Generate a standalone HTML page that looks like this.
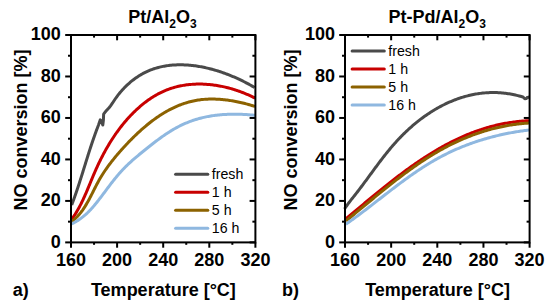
<!DOCTYPE html>
<html><head><meta charset="utf-8"><style>html,body{margin:0;padding:0;background:#fff;width:550px;height:308px;overflow:hidden}svg{display:block}</style></head>
<body>
<svg width="550" height="308" viewBox="0 0 550 308">
<style>text{font-family:"Liberation Sans", sans-serif;fill:#000}.tl{font-size:18px;font-weight:bold}.lg{font-size:14.2px}.ax{font-size:18px;font-weight:bold}.tt{font-size:18px;font-weight:bold}.sub{font-size:12px}</style>
<rect width="550" height="308" fill="#fff"/>
<line x1="71.00" y1="242.40" x2="71.00" y2="247.70" stroke="#000" stroke-width="2"/>
<line x1="71.00" y1="35.00" x2="71.00" y2="40.30" stroke="#000" stroke-width="2"/>
<line x1="94.05" y1="242.40" x2="94.05" y2="244.80" stroke="#000" stroke-width="2"/>
<line x1="94.05" y1="35.00" x2="94.05" y2="37.60" stroke="#000" stroke-width="2"/>
<line x1="117.10" y1="242.40" x2="117.10" y2="247.70" stroke="#000" stroke-width="2"/>
<line x1="117.10" y1="35.00" x2="117.10" y2="40.30" stroke="#000" stroke-width="2"/>
<line x1="140.15" y1="242.40" x2="140.15" y2="244.80" stroke="#000" stroke-width="2"/>
<line x1="140.15" y1="35.00" x2="140.15" y2="37.60" stroke="#000" stroke-width="2"/>
<line x1="163.20" y1="242.40" x2="163.20" y2="247.70" stroke="#000" stroke-width="2"/>
<line x1="163.20" y1="35.00" x2="163.20" y2="40.30" stroke="#000" stroke-width="2"/>
<line x1="186.25" y1="242.40" x2="186.25" y2="244.80" stroke="#000" stroke-width="2"/>
<line x1="186.25" y1="35.00" x2="186.25" y2="37.60" stroke="#000" stroke-width="2"/>
<line x1="209.30" y1="242.40" x2="209.30" y2="247.70" stroke="#000" stroke-width="2"/>
<line x1="209.30" y1="35.00" x2="209.30" y2="40.30" stroke="#000" stroke-width="2"/>
<line x1="232.35" y1="242.40" x2="232.35" y2="244.80" stroke="#000" stroke-width="2"/>
<line x1="232.35" y1="35.00" x2="232.35" y2="37.60" stroke="#000" stroke-width="2"/>
<line x1="255.40" y1="242.40" x2="255.40" y2="247.70" stroke="#000" stroke-width="2"/>
<line x1="255.40" y1="35.00" x2="255.40" y2="40.30" stroke="#000" stroke-width="2"/>
<line x1="65.20" y1="242.40" x2="71.00" y2="242.40" stroke="#000" stroke-width="2"/>
<line x1="249.60" y1="242.40" x2="255.40" y2="242.40" stroke="#000" stroke-width="2"/>
<line x1="68.00" y1="221.66" x2="71.00" y2="221.66" stroke="#000" stroke-width="2"/>
<line x1="252.40" y1="221.66" x2="255.40" y2="221.66" stroke="#000" stroke-width="2"/>
<line x1="65.20" y1="200.92" x2="71.00" y2="200.92" stroke="#000" stroke-width="2"/>
<line x1="249.60" y1="200.92" x2="255.40" y2="200.92" stroke="#000" stroke-width="2"/>
<line x1="68.00" y1="180.18" x2="71.00" y2="180.18" stroke="#000" stroke-width="2"/>
<line x1="252.40" y1="180.18" x2="255.40" y2="180.18" stroke="#000" stroke-width="2"/>
<line x1="65.20" y1="159.44" x2="71.00" y2="159.44" stroke="#000" stroke-width="2"/>
<line x1="249.60" y1="159.44" x2="255.40" y2="159.44" stroke="#000" stroke-width="2"/>
<line x1="68.00" y1="138.70" x2="71.00" y2="138.70" stroke="#000" stroke-width="2"/>
<line x1="252.40" y1="138.70" x2="255.40" y2="138.70" stroke="#000" stroke-width="2"/>
<line x1="65.20" y1="117.96" x2="71.00" y2="117.96" stroke="#000" stroke-width="2"/>
<line x1="249.60" y1="117.96" x2="255.40" y2="117.96" stroke="#000" stroke-width="2"/>
<line x1="68.00" y1="97.22" x2="71.00" y2="97.22" stroke="#000" stroke-width="2"/>
<line x1="252.40" y1="97.22" x2="255.40" y2="97.22" stroke="#000" stroke-width="2"/>
<line x1="65.20" y1="76.48" x2="71.00" y2="76.48" stroke="#000" stroke-width="2"/>
<line x1="249.60" y1="76.48" x2="255.40" y2="76.48" stroke="#000" stroke-width="2"/>
<line x1="68.00" y1="55.74" x2="71.00" y2="55.74" stroke="#000" stroke-width="2"/>
<line x1="252.40" y1="55.74" x2="255.40" y2="55.74" stroke="#000" stroke-width="2"/>
<line x1="65.20" y1="35.00" x2="71.00" y2="35.00" stroke="#000" stroke-width="2"/>
<line x1="249.60" y1="35.00" x2="255.40" y2="35.00" stroke="#000" stroke-width="2"/>
<text x="71.00" y="265.6" text-anchor="middle" class="tl">160</text>
<text x="117.10" y="265.6" text-anchor="middle" class="tl">200</text>
<text x="163.20" y="265.6" text-anchor="middle" class="tl">240</text>
<text x="209.30" y="265.6" text-anchor="middle" class="tl">280</text>
<text x="255.40" y="265.6" text-anchor="middle" class="tl">320</text>
<text x="60.70" y="247.80" text-anchor="end" class="tl">0</text>
<text x="60.70" y="206.32" text-anchor="end" class="tl">20</text>
<text x="60.70" y="164.84" text-anchor="end" class="tl">40</text>
<text x="60.70" y="123.36" text-anchor="end" class="tl">60</text>
<text x="60.70" y="81.88" text-anchor="end" class="tl">80</text>
<text x="60.70" y="40.40" text-anchor="end" class="tl">100</text>
<line x1="345.00" y1="242.40" x2="345.00" y2="247.70" stroke="#000" stroke-width="2"/>
<line x1="345.00" y1="35.00" x2="345.00" y2="40.30" stroke="#000" stroke-width="2"/>
<line x1="368.07" y1="242.40" x2="368.07" y2="244.80" stroke="#000" stroke-width="2"/>
<line x1="368.07" y1="35.00" x2="368.07" y2="37.60" stroke="#000" stroke-width="2"/>
<line x1="391.15" y1="242.40" x2="391.15" y2="247.70" stroke="#000" stroke-width="2"/>
<line x1="391.15" y1="35.00" x2="391.15" y2="40.30" stroke="#000" stroke-width="2"/>
<line x1="414.23" y1="242.40" x2="414.23" y2="244.80" stroke="#000" stroke-width="2"/>
<line x1="414.23" y1="35.00" x2="414.23" y2="37.60" stroke="#000" stroke-width="2"/>
<line x1="437.30" y1="242.40" x2="437.30" y2="247.70" stroke="#000" stroke-width="2"/>
<line x1="437.30" y1="35.00" x2="437.30" y2="40.30" stroke="#000" stroke-width="2"/>
<line x1="460.38" y1="242.40" x2="460.38" y2="244.80" stroke="#000" stroke-width="2"/>
<line x1="460.38" y1="35.00" x2="460.38" y2="37.60" stroke="#000" stroke-width="2"/>
<line x1="483.45" y1="242.40" x2="483.45" y2="247.70" stroke="#000" stroke-width="2"/>
<line x1="483.45" y1="35.00" x2="483.45" y2="40.30" stroke="#000" stroke-width="2"/>
<line x1="506.53" y1="242.40" x2="506.53" y2="244.80" stroke="#000" stroke-width="2"/>
<line x1="506.53" y1="35.00" x2="506.53" y2="37.60" stroke="#000" stroke-width="2"/>
<line x1="529.60" y1="242.40" x2="529.60" y2="247.70" stroke="#000" stroke-width="2"/>
<line x1="529.60" y1="35.00" x2="529.60" y2="40.30" stroke="#000" stroke-width="2"/>
<line x1="339.20" y1="242.40" x2="345.00" y2="242.40" stroke="#000" stroke-width="2"/>
<line x1="523.80" y1="242.40" x2="529.60" y2="242.40" stroke="#000" stroke-width="2"/>
<line x1="342.00" y1="221.66" x2="345.00" y2="221.66" stroke="#000" stroke-width="2"/>
<line x1="526.60" y1="221.66" x2="529.60" y2="221.66" stroke="#000" stroke-width="2"/>
<line x1="339.20" y1="200.92" x2="345.00" y2="200.92" stroke="#000" stroke-width="2"/>
<line x1="523.80" y1="200.92" x2="529.60" y2="200.92" stroke="#000" stroke-width="2"/>
<line x1="342.00" y1="180.18" x2="345.00" y2="180.18" stroke="#000" stroke-width="2"/>
<line x1="526.60" y1="180.18" x2="529.60" y2="180.18" stroke="#000" stroke-width="2"/>
<line x1="339.20" y1="159.44" x2="345.00" y2="159.44" stroke="#000" stroke-width="2"/>
<line x1="523.80" y1="159.44" x2="529.60" y2="159.44" stroke="#000" stroke-width="2"/>
<line x1="342.00" y1="138.70" x2="345.00" y2="138.70" stroke="#000" stroke-width="2"/>
<line x1="526.60" y1="138.70" x2="529.60" y2="138.70" stroke="#000" stroke-width="2"/>
<line x1="339.20" y1="117.96" x2="345.00" y2="117.96" stroke="#000" stroke-width="2"/>
<line x1="523.80" y1="117.96" x2="529.60" y2="117.96" stroke="#000" stroke-width="2"/>
<line x1="342.00" y1="97.22" x2="345.00" y2="97.22" stroke="#000" stroke-width="2"/>
<line x1="526.60" y1="97.22" x2="529.60" y2="97.22" stroke="#000" stroke-width="2"/>
<line x1="339.20" y1="76.48" x2="345.00" y2="76.48" stroke="#000" stroke-width="2"/>
<line x1="523.80" y1="76.48" x2="529.60" y2="76.48" stroke="#000" stroke-width="2"/>
<line x1="342.00" y1="55.74" x2="345.00" y2="55.74" stroke="#000" stroke-width="2"/>
<line x1="526.60" y1="55.74" x2="529.60" y2="55.74" stroke="#000" stroke-width="2"/>
<line x1="339.20" y1="35.00" x2="345.00" y2="35.00" stroke="#000" stroke-width="2"/>
<line x1="523.80" y1="35.00" x2="529.60" y2="35.00" stroke="#000" stroke-width="2"/>
<text x="345.00" y="265.6" text-anchor="middle" class="tl">160</text>
<text x="391.15" y="265.6" text-anchor="middle" class="tl">200</text>
<text x="437.30" y="265.6" text-anchor="middle" class="tl">240</text>
<text x="483.45" y="265.6" text-anchor="middle" class="tl">280</text>
<text x="529.60" y="265.6" text-anchor="middle" class="tl">320</text>
<text x="335.10" y="247.80" text-anchor="end" class="tl">0</text>
<text x="335.10" y="206.32" text-anchor="end" class="tl">20</text>
<text x="335.10" y="164.84" text-anchor="end" class="tl">40</text>
<text x="335.10" y="123.36" text-anchor="end" class="tl">60</text>
<text x="335.10" y="81.88" text-anchor="end" class="tl">80</text>
<text x="335.10" y="40.40" text-anchor="end" class="tl">100</text>
<path d="M71.66 205.05 L72.08 203.93 L72.50 202.81 L72.92 201.69 L73.33 200.57 L73.74 199.44 L74.15 198.32 L74.55 197.19 L74.95 196.06 L75.34 194.93 L75.73 193.80 L76.12 192.67 L76.51 191.54 L76.89 190.41 L77.27 189.27 L77.65 188.14 L78.03 187.00 L78.40 185.87 L78.77 184.73 L79.14 183.59 L79.51 182.45 L79.88 181.31 L80.24 180.17 L80.61 179.03 L80.97 177.89 L81.33 176.75 L81.69 175.61 L82.05 174.47 L82.40 173.33 L82.76 172.18 L83.12 171.04 L83.47 169.90 L83.83 168.76 L84.18 167.61 L84.54 166.47 L84.89 165.33 L85.25 164.19 L85.60 163.04 L85.96 161.90 L86.31 160.76 L86.67 159.62 L87.03 158.48 L87.38 157.33 L87.74 156.19 L88.10 155.05 L88.46 153.91 L88.83 152.77 L89.19 151.63 L89.56 150.49 L89.92 149.36 L90.29 148.22 L90.66 147.08 L91.04 145.95 L91.41 144.81 L91.79 143.68 L92.17 142.55 L92.55 141.41 L92.94 140.28 L93.33 139.15 L93.72 138.02 L94.11 136.89 L94.51 135.77 L94.91 134.64 L95.31 133.52 L95.72 132.39 L96.13 131.27 L96.55 130.15 L96.97 129.03 L97.39 127.91 L97.82 126.80 L98.25 125.68 L98.68 124.57 L100.30 119.80 L101.60 121.50 L102.80 125.00 L103.40 120.00 L103.62 114.28 L104.22 113.30 L104.90 112.36 L105.65 111.46 L106.44 110.58 L107.25 109.71 L108.06 108.84 L108.86 107.96 L109.63 107.05 L110.36 106.12 L111.06 105.16 L111.74 104.19 L112.40 103.21 L113.05 102.22 L113.69 101.22 L114.35 100.22 L115.01 99.23 L115.69 98.25 L116.39 97.27 L117.10 96.31 L117.82 95.35 L118.56 94.40 L119.32 93.46 L120.09 92.52 L120.87 91.60 L121.67 90.69 L122.48 89.79 L123.30 88.90 L124.13 88.02 L124.98 87.16 L125.84 86.30 L126.72 85.46 L127.60 84.63 L128.50 83.82 L129.40 83.02 L130.32 82.23 L131.25 81.46 L132.19 80.70 L133.14 79.96 L134.10 79.23 L135.08 78.52 L136.06 77.82 L137.05 77.14 L138.05 76.48 L139.05 75.84 L140.07 75.21 L141.10 74.60 L142.13 74.01 L143.17 73.44 L144.22 72.88 L145.28 72.35 L146.34 71.84 L147.41 71.34 L148.49 70.87 L149.58 70.42 L150.67 69.98 L151.77 69.56 L152.87 69.17 L153.98 68.79 L155.09 68.43 L156.22 68.08 L157.34 67.76 L158.47 67.45 L159.61 67.16 L160.75 66.89 L161.90 66.64 L163.05 66.40 L164.21 66.18 L165.37 65.98 L166.53 65.79 L167.70 65.62 L168.87 65.47 L170.05 65.33 L171.23 65.21 L172.41 65.10 L173.60 65.01 L174.78 64.94 L175.97 64.88 L177.17 64.84 L178.36 64.81 L179.56 64.79 L180.76 64.79 L181.96 64.81 L183.17 64.83 L184.37 64.88 L185.58 64.93 L186.78 65.00 L187.99 65.09 L189.20 65.18 L190.41 65.29 L191.62 65.42 L192.83 65.55 L194.04 65.70 L195.25 65.86 L196.46 66.03 L197.67 66.22 L198.88 66.42 L200.09 66.62 L201.29 66.84 L202.50 67.08 L203.70 67.32 L204.90 67.57 L206.11 67.84 L207.30 68.11 L208.50 68.40 L209.70 68.69 L210.89 69.00 L212.08 69.32 L213.27 69.64 L214.45 69.98 L215.63 70.32 L216.81 70.68 L217.98 71.04 L219.16 71.41 L220.32 71.79 L221.49 72.18 L222.64 72.58 L223.80 72.99 L224.95 73.40 L226.09 73.82 L227.24 74.25 L228.37 74.69 L229.50 75.13 L230.63 75.58 L231.75 76.04 L232.86 76.51 L233.97 76.98 L235.07 77.46 L236.17 77.94 L237.25 78.43 L238.34 78.93 L239.41 79.43 L240.48 79.94 L241.54 80.45 L242.60 80.97 L243.65 81.49 L244.69 82.02 L245.72 82.55 L246.74 83.09 L247.76 83.63 L248.76 84.18 L249.76 84.73 L250.75 85.28 L251.73 85.84 L252.70 86.40 L253.67 86.96 L254.62 87.53" fill="none" stroke="#4a4a4a" stroke-width="3.00" stroke-linejoin="round" stroke-linecap="butt"/>
<path d="M71.86 219.18 L72.56 218.19 L73.24 217.20 L73.91 216.20 L74.57 215.19 L75.21 214.18 L75.85 213.16 L76.46 212.14 L77.07 211.11 L77.67 210.08 L78.25 209.04 L78.83 208.00 L79.39 206.96 L79.94 205.91 L80.49 204.86 L81.02 203.80 L81.55 202.74 L82.07 201.68 L82.58 200.61 L83.09 199.54 L83.59 198.47 L84.08 197.39 L84.57 196.31 L85.05 195.23 L85.52 194.15 L86.00 193.06 L86.46 191.98 L86.93 190.89 L87.39 189.80 L87.85 188.70 L88.31 187.61 L88.76 186.51 L89.22 185.42 L89.67 184.32 L90.12 183.22 L90.58 182.12 L91.03 181.02 L91.48 179.92 L91.94 178.82 L92.40 177.72 L92.86 176.62 L93.32 175.53 L93.79 174.43 L94.26 173.33 L94.73 172.23 L95.21 171.13 L95.69 170.04 L96.18 168.94 L96.67 167.85 L97.17 166.76 L97.67 165.67 L98.18 164.58 L98.70 163.49 L99.22 162.41 L99.75 161.32 L100.28 160.24 L100.81 159.16 L101.36 158.09 L101.91 157.01 L102.46 155.94 L103.02 154.87 L103.59 153.81 L104.16 152.74 L104.73 151.68 L105.32 150.63 L105.91 149.57 L106.50 148.52 L107.10 147.48 L107.71 146.43 L108.32 145.39 L108.94 144.36 L109.57 143.32 L110.20 142.29 L110.84 141.27 L111.48 140.25 L112.14 139.23 L112.79 138.22 L113.46 137.22 L114.13 136.21 L114.80 135.22 L115.49 134.22 L116.18 133.24 L116.87 132.25 L117.58 131.28 L118.29 130.30 L119.00 129.34 L119.73 128.38 L120.46 127.42 L121.19 126.47 L121.94 125.53 L122.69 124.59 L123.44 123.66 L124.21 122.73 L124.98 121.81 L125.76 120.90 L126.55 119.99 L127.34 119.09 L128.14 118.20 L128.95 117.31 L129.76 116.44 L130.58 115.56 L131.41 114.70 L132.25 113.84 L133.09 112.99 L133.94 112.15 L134.80 111.31 L135.67 110.49 L136.54 109.67 L137.43 108.86 L138.32 108.05 L139.21 107.26 L140.12 106.47 L141.03 105.70 L141.95 104.93 L142.88 104.17 L143.81 103.43 L144.75 102.69 L145.70 101.96 L146.66 101.25 L147.62 100.54 L148.60 99.85 L149.57 99.17 L150.56 98.50 L151.55 97.85 L152.55 97.21 L153.56 96.58 L154.58 95.96 L155.60 95.36 L156.63 94.77 L157.66 94.19 L158.70 93.64 L159.75 93.09 L160.81 92.56 L161.87 92.05 L162.95 91.55 L164.02 91.07 L165.11 90.60 L166.20 90.16 L167.30 89.72 L168.40 89.31 L169.51 88.91 L170.63 88.53 L171.75 88.16 L172.88 87.81 L174.01 87.48 L175.15 87.17 L176.29 86.86 L177.44 86.58 L178.60 86.31 L179.76 86.06 L180.92 85.82 L182.09 85.60 L183.26 85.39 L184.43 85.20 L185.61 85.02 L186.79 84.86 L187.98 84.72 L189.17 84.59 L190.36 84.47 L191.56 84.37 L192.75 84.29 L193.95 84.22 L195.15 84.16 L196.36 84.12 L197.56 84.09 L198.77 84.08 L199.98 84.08 L201.19 84.09 L202.40 84.12 L203.61 84.17 L204.83 84.22 L206.04 84.29 L207.25 84.38 L208.46 84.47 L209.68 84.58 L210.89 84.71 L212.10 84.84 L213.31 84.99 L214.52 85.16 L215.72 85.33 L216.93 85.52 L218.13 85.72 L219.33 85.93 L220.53 86.15 L221.73 86.38 L222.92 86.63 L224.11 86.89 L225.29 87.16 L226.48 87.44 L227.66 87.73 L228.83 88.03 L230.00 88.35 L231.16 88.67 L232.32 89.01 L233.48 89.35 L234.63 89.71 L235.77 90.08 L236.91 90.45 L238.04 90.84 L239.17 91.23 L240.29 91.64 L241.40 92.05 L242.51 92.48 L243.60 92.91 L244.69 93.36 L245.78 93.81 L246.85 94.27 L247.92 94.74 L248.98 95.22 L250.03 95.70 L251.07 96.20 L252.10 96.70 L253.12 97.21 L254.13 97.73 L255.14 98.25" fill="none" stroke="#c80000" stroke-width="3.00" stroke-linejoin="round" stroke-linecap="butt"/>
<path d="M71.82 221.50 L72.78 220.74 L73.71 219.97 L74.61 219.17 L75.49 218.36 L76.35 217.53 L77.18 216.68 L77.99 215.81 L78.78 214.93 L79.55 214.04 L80.30 213.12 L81.03 212.20 L81.74 211.26 L82.44 210.31 L83.12 209.34 L83.78 208.37 L84.43 207.38 L85.07 206.39 L85.69 205.38 L86.30 204.37 L86.90 203.34 L87.49 202.31 L88.08 201.28 L88.65 200.23 L89.22 199.18 L89.77 198.13 L90.33 197.07 L90.88 196.01 L91.42 194.94 L91.97 193.88 L92.51 192.81 L93.04 191.74 L93.58 190.67 L94.12 189.59 L94.66 188.52 L95.20 187.46 L95.75 186.39 L96.30 185.33 L96.85 184.27 L97.41 183.21 L97.98 182.16 L98.55 181.11 L99.13 180.07 L99.72 179.04 L100.32 178.02 L100.93 177.00 L101.55 175.98 L102.17 174.97 L102.81 173.97 L103.45 172.98 L104.10 171.99 L104.76 171.00 L105.43 170.02 L106.10 169.05 L106.78 168.08 L107.47 167.12 L108.17 166.16 L108.87 165.21 L109.58 164.26 L110.29 163.31 L111.02 162.37 L111.74 161.44 L112.48 160.50 L113.22 159.58 L113.97 158.65 L114.72 157.73 L115.48 156.81 L116.24 155.90 L117.01 154.99 L117.78 154.08 L118.56 153.18 L119.34 152.28 L120.13 151.38 L120.92 150.48 L121.72 149.59 L122.52 148.70 L123.32 147.81 L124.13 146.92 L124.94 146.04 L125.76 145.16 L126.58 144.28 L127.40 143.40 L128.23 142.53 L129.07 141.67 L129.90 140.80 L130.75 139.94 L131.59 139.09 L132.44 138.23 L133.30 137.39 L134.16 136.54 L135.02 135.70 L135.89 134.87 L136.77 134.04 L137.64 133.21 L138.53 132.39 L139.41 131.58 L140.30 130.77 L141.20 129.97 L142.10 129.17 L143.01 128.38 L143.92 127.59 L144.83 126.81 L145.75 126.03 L146.67 125.27 L147.60 124.51 L148.54 123.75 L149.47 123.01 L150.42 122.27 L151.36 121.54 L152.32 120.82 L153.27 120.10 L154.23 119.39 L155.20 118.70 L156.17 118.01 L157.15 117.32 L158.13 116.65 L159.12 115.99 L160.11 115.34 L161.10 114.69 L162.10 114.06 L163.11 113.44 L164.12 112.83 L165.14 112.22 L166.16 111.63 L167.19 111.05 L168.22 110.48 L169.25 109.92 L170.29 109.38 L171.34 108.84 L172.39 108.32 L173.45 107.81 L174.51 107.31 L175.58 106.82 L176.65 106.35 L177.73 105.89 L178.81 105.44 L179.90 105.01 L180.99 104.59 L182.09 104.19 L183.20 103.79 L184.31 103.42 L185.42 103.05 L186.54 102.70 L187.67 102.37 L188.80 102.05 L189.93 101.75 L191.08 101.46 L192.22 101.19 L193.38 100.93 L194.53 100.69 L195.70 100.47 L196.87 100.26 L198.04 100.07 L199.22 99.89 L200.41 99.74 L201.60 99.60 L202.80 99.47 L204.00 99.37 L205.20 99.27 L206.41 99.20 L207.62 99.14 L208.84 99.10 L210.06 99.07 L211.28 99.05 L212.50 99.05 L213.73 99.07 L214.95 99.10 L216.18 99.14 L217.41 99.19 L218.64 99.26 L219.86 99.34 L221.09 99.44 L222.32 99.55 L223.54 99.66 L224.77 99.79 L225.99 99.94 L227.21 100.09 L228.43 100.25 L229.64 100.43 L230.86 100.62 L232.06 100.81 L233.27 101.02 L234.47 101.23 L235.66 101.46 L236.85 101.69 L238.04 101.94 L239.22 102.19 L240.39 102.45 L241.56 102.71 L242.72 102.99 L243.87 103.27 L245.01 103.56 L246.15 103.86 L247.28 104.17 L248.40 104.48 L249.51 104.79 L250.61 105.12 L251.70 105.44 L252.79 105.78 L253.86 106.12 L254.92 106.46" fill="none" stroke="#8c6200" stroke-width="3.00" stroke-linejoin="round" stroke-linecap="butt"/>
<path d="M71.49 223.86 L72.62 223.34 L73.73 222.79 L74.82 222.23 L75.88 221.63 L76.93 221.02 L77.96 220.39 L78.96 219.73 L79.95 219.06 L80.92 218.36 L81.87 217.65 L82.81 216.92 L83.73 216.17 L84.63 215.41 L85.52 214.63 L86.39 213.83 L87.25 213.03 L88.10 212.20 L88.93 211.37 L89.76 210.52 L90.57 209.66 L91.37 208.79 L92.16 207.91 L92.95 207.02 L93.72 206.12 L94.49 205.22 L95.25 204.30 L96.00 203.38 L96.74 202.46 L97.48 201.52 L98.22 200.59 L98.95 199.65 L99.68 198.70 L100.41 197.76 L101.13 196.81 L101.85 195.86 L102.57 194.90 L103.28 193.95 L104.00 192.99 L104.71 192.04 L105.43 191.08 L106.14 190.12 L106.86 189.17 L107.57 188.21 L108.29 187.26 L109.00 186.30 L109.72 185.35 L110.45 184.40 L111.17 183.46 L111.90 182.51 L112.63 181.57 L113.36 180.63 L114.10 179.70 L114.85 178.77 L115.59 177.85 L116.35 176.93 L117.11 176.02 L117.87 175.11 L118.65 174.21 L119.43 173.31 L120.21 172.42 L121.01 171.54 L121.81 170.67 L122.62 169.80 L123.44 168.95 L124.27 168.10 L125.10 167.25 L125.94 166.42 L126.79 165.59 L127.65 164.76 L128.51 163.94 L129.38 163.13 L130.25 162.33 L131.13 161.53 L132.02 160.73 L132.91 159.94 L133.81 159.15 L134.71 158.37 L135.61 157.59 L136.52 156.82 L137.44 156.05 L138.35 155.28 L139.28 154.51 L140.20 153.75 L141.13 152.99 L142.05 152.23 L142.99 151.48 L143.92 150.72 L144.86 149.97 L145.79 149.22 L146.73 148.46 L147.67 147.71 L148.61 146.97 L149.55 146.22 L150.50 145.47 L151.45 144.73 L152.39 143.99 L153.35 143.25 L154.30 142.52 L155.25 141.79 L156.21 141.07 L157.17 140.34 L158.14 139.63 L159.10 138.92 L160.07 138.21 L161.05 137.51 L162.02 136.82 L163.00 136.13 L163.99 135.45 L164.98 134.77 L165.97 134.10 L166.96 133.44 L167.96 132.79 L168.96 132.15 L169.97 131.51 L170.98 130.89 L172.00 130.27 L173.02 129.66 L174.05 129.07 L175.08 128.48 L176.12 127.90 L177.16 127.34 L178.21 126.78 L179.26 126.24 L180.32 125.71 L181.38 125.19 L182.45 124.68 L183.53 124.19 L184.61 123.70 L185.70 123.23 L186.79 122.77 L187.89 122.33 L188.99 121.89 L190.10 121.47 L191.21 121.06 L192.33 120.67 L193.45 120.28 L194.58 119.91 L195.71 119.55 L196.85 119.20 L197.99 118.87 L199.13 118.55 L200.28 118.24 L201.44 117.94 L202.60 117.66 L203.76 117.39 L204.93 117.13 L206.10 116.88 L207.27 116.64 L208.45 116.42 L209.63 116.21 L210.81 116.01 L212.00 115.82 L213.18 115.64 L214.38 115.47 L215.57 115.32 L216.76 115.17 L217.96 115.04 L219.16 114.91 L220.36 114.80 L221.56 114.69 L222.76 114.60 L223.96 114.52 L225.17 114.44 L226.37 114.38 L227.57 114.32 L228.78 114.28 L229.98 114.24 L231.19 114.21 L232.39 114.19 L233.59 114.18 L234.80 114.18 L236.00 114.19 L237.20 114.21 L238.40 114.23 L239.60 114.26 L240.79 114.30 L241.99 114.35 L243.18 114.40 L244.37 114.47 L245.56 114.54 L246.74 114.61 L247.93 114.70 L249.11 114.79 L250.28 114.89 L251.46 114.99 L252.63 115.10 L253.79 115.22 L254.96 115.34" fill="none" stroke="#8fb8e0" stroke-width="3.00" stroke-linejoin="round" stroke-linecap="butt"/>
<path d="M344.56 208.97 L345.19 207.98 L345.83 207.01 L346.50 206.04 L347.17 205.08 L347.86 204.13 L348.56 203.18 L349.27 202.24 L349.99 201.31 L350.72 200.37 L351.45 199.44 L352.18 198.51 L352.92 197.58 L353.67 196.65 L354.41 195.72 L355.15 194.78 L355.88 193.85 L356.62 192.91 L357.35 191.97 L358.08 191.03 L358.80 190.08 L359.53 189.13 L360.25 188.18 L360.97 187.23 L361.69 186.27 L362.41 185.32 L363.12 184.36 L363.83 183.40 L364.55 182.44 L365.26 181.48 L365.97 180.52 L366.68 179.55 L367.39 178.59 L368.09 177.62 L368.80 176.66 L369.51 175.69 L370.22 174.72 L370.93 173.76 L371.64 172.79 L372.35 171.82 L373.06 170.86 L373.77 169.89 L374.48 168.93 L375.19 167.96 L375.90 167.00 L376.62 166.03 L377.34 165.07 L378.05 164.11 L378.77 163.15 L379.50 162.19 L380.22 161.24 L380.95 160.28 L381.68 159.33 L382.41 158.38 L383.14 157.43 L383.88 156.48 L384.62 155.54 L385.37 154.60 L386.11 153.66 L386.86 152.72 L387.62 151.79 L388.38 150.85 L389.14 149.93 L389.91 149.00 L390.68 148.08 L391.45 147.16 L392.23 146.25 L393.02 145.34 L393.81 144.43 L394.60 143.53 L395.40 142.63 L396.21 141.74 L397.02 140.85 L397.83 139.96 L398.66 139.08 L399.48 138.21 L400.32 137.34 L401.16 136.47 L402.00 135.61 L402.86 134.76 L403.71 133.91 L404.58 133.06 L405.45 132.23 L406.32 131.39 L407.20 130.57 L408.09 129.74 L408.98 128.93 L409.87 128.12 L410.78 127.32 L411.68 126.52 L412.60 125.73 L413.51 124.95 L414.44 124.17 L415.37 123.40 L416.30 122.64 L417.24 121.88 L418.18 121.13 L419.13 120.39 L420.08 119.65 L421.04 118.92 L422.01 118.20 L422.98 117.49 L423.95 116.79 L424.93 116.09 L425.91 115.40 L426.90 114.72 L427.89 114.05 L428.89 113.38 L429.89 112.72 L430.90 112.08 L431.91 111.44 L432.93 110.81 L433.95 110.18 L434.97 109.57 L436.00 108.97 L437.04 108.37 L438.07 107.78 L439.12 107.21 L440.16 106.64 L441.21 106.08 L442.27 105.53 L443.33 105.00 L444.39 104.47 L445.46 103.95 L446.53 103.44 L447.61 102.94 L448.68 102.45 L449.77 101.98 L450.85 101.51 L451.95 101.05 L453.04 100.60 L454.14 100.17 L455.24 99.75 L456.35 99.33 L457.46 98.93 L458.57 98.54 L459.68 98.16 L460.80 97.79 L461.93 97.43 L463.05 97.09 L464.19 96.75 L465.32 96.43 L466.46 96.12 L467.60 95.83 L468.74 95.54 L469.89 95.27 L471.04 95.01 L472.19 94.76 L473.34 94.52 L474.50 94.30 L475.67 94.09 L476.83 93.89 L478.00 93.71 L479.17 93.54 L480.34 93.38 L481.52 93.24 L482.70 93.10 L483.88 92.99 L485.07 92.88 L486.25 92.79 L487.44 92.72 L488.64 92.66 L489.83 92.61 L491.03 92.57 L492.23 92.55 L493.43 92.55 L494.64 92.56 L495.84 92.58 L497.05 92.62 L498.27 92.68 L499.48 92.74 L500.70 92.83 L501.91 92.93 L503.13 93.04 L504.36 93.17 L505.58 93.32 L506.81 93.48 L508.04 93.65 L509.27 93.85 L510.50 94.05 L511.73 94.28 L512.97 94.52 L514.21 94.77 L515.45 95.05 L516.69 95.34 L517.93 95.64 L519.18 95.97 L520.42 96.30 L523.00 97.00 L524.80 98.80 L526.20 98.60 L527.50 97.40 L529.30 97.10" fill="none" stroke="#4a4a4a" stroke-width="3.00" stroke-linejoin="round" stroke-linecap="butt"/>
<path d="M345.74 218.90 L346.64 218.15 L347.54 217.40 L348.45 216.65 L349.35 215.90 L350.25 215.15 L351.16 214.40 L352.06 213.65 L352.97 212.89 L353.88 212.14 L354.78 211.38 L355.69 210.63 L356.60 209.87 L357.51 209.11 L358.42 208.35 L359.33 207.60 L360.24 206.84 L361.15 206.08 L362.07 205.32 L362.98 204.56 L363.89 203.79 L364.81 203.03 L365.72 202.27 L366.64 201.51 L367.56 200.75 L368.48 199.99 L369.40 199.23 L370.32 198.47 L371.24 197.71 L372.16 196.95 L373.08 196.19 L374.01 195.43 L374.93 194.67 L375.86 193.91 L376.79 193.15 L377.71 192.40 L378.64 191.64 L379.57 190.89 L380.51 190.13 L381.44 189.38 L382.37 188.62 L383.31 187.87 L384.24 187.12 L385.18 186.37 L386.12 185.62 L387.06 184.88 L388.00 184.13 L388.94 183.39 L389.88 182.64 L390.83 181.90 L391.77 181.16 L392.72 180.43 L393.67 179.69 L394.62 178.95 L395.57 178.22 L396.52 177.49 L397.48 176.76 L398.43 176.03 L399.39 175.31 L400.35 174.59 L401.31 173.86 L402.27 173.15 L403.23 172.43 L404.20 171.72 L405.16 171.00 L406.13 170.29 L407.10 169.59 L408.07 168.88 L409.04 168.18 L410.02 167.48 L410.99 166.79 L411.97 166.09 L412.95 165.40 L413.93 164.72 L414.91 164.03 L415.90 163.35 L416.88 162.67 L417.87 162.00 L418.86 161.33 L419.85 160.66 L420.84 159.99 L421.84 159.33 L422.83 158.67 L423.83 158.02 L424.83 157.37 L425.84 156.72 L426.84 156.08 L427.85 155.44 L428.85 154.80 L429.87 154.17 L430.88 153.54 L431.89 152.91 L432.91 152.29 L433.93 151.68 L434.95 151.07 L435.97 150.46 L436.99 149.86 L438.02 149.26 L439.05 148.66 L440.08 148.07 L441.11 147.49 L442.15 146.91 L443.18 146.33 L444.22 145.76 L445.27 145.19 L446.31 144.63 L447.36 144.07 L448.41 143.52 L449.46 142.98 L450.51 142.43 L451.56 141.90 L452.62 141.37 L453.68 140.84 L454.75 140.32 L455.81 139.80 L456.88 139.29 L457.95 138.79 L459.02 138.29 L460.09 137.80 L461.17 137.31 L462.25 136.83 L463.33 136.35 L464.42 135.88 L465.50 135.42 L466.59 134.96 L467.69 134.51 L468.78 134.06 L469.88 133.62 L470.98 133.18 L472.08 132.76 L473.19 132.34 L474.29 131.92 L475.41 131.51 L476.52 131.11 L477.63 130.71 L478.75 130.33 L479.87 129.94 L481.00 129.57 L482.13 129.20 L483.26 128.84 L484.39 128.48 L485.52 128.13 L486.66 127.79 L487.80 127.46 L488.95 127.13 L490.09 126.81 L491.24 126.50 L492.40 126.20 L493.55 125.90 L494.71 125.61 L495.87 125.32 L497.04 125.05 L498.20 124.78 L499.37 124.52 L500.55 124.27 L501.72 124.03 L502.90 123.79 L504.08 123.56 L505.27 123.34 L506.46 123.13 L507.65 122.92 L508.85 122.73 L510.04 122.54 L511.25 122.36 L512.45 122.19 L513.66 122.02 L514.87 121.87 L516.08 121.72 L517.30 121.58 L518.52 121.45 L519.74 121.33 L520.97 121.22 L522.20 121.12 L523.43 121.02 L524.67 120.94 L525.91 120.86 L527.16 120.80 L528.40 120.74 L529.65 120.69" fill="none" stroke="#c80000" stroke-width="3.00" stroke-linejoin="round" stroke-linecap="butt"/>
<path d="M345.86 220.95 L346.78 220.21 L347.70 219.46 L348.62 218.72 L349.54 217.97 L350.46 217.22 L351.38 216.47 L352.30 215.72 L353.22 214.97 L354.14 214.22 L355.06 213.46 L355.98 212.71 L356.90 211.95 L357.82 211.19 L358.74 210.43 L359.66 209.68 L360.58 208.92 L361.50 208.15 L362.42 207.39 L363.34 206.63 L364.27 205.87 L365.19 205.11 L366.11 204.34 L367.04 203.58 L367.96 202.82 L368.88 202.05 L369.81 201.29 L370.74 200.53 L371.66 199.76 L372.59 199.00 L373.52 198.24 L374.44 197.47 L375.37 196.71 L376.30 195.95 L377.23 195.19 L378.16 194.42 L379.10 193.66 L380.03 192.90 L380.96 192.15 L381.90 191.39 L382.83 190.63 L383.77 189.87 L384.71 189.12 L385.65 188.36 L386.59 187.61 L387.53 186.86 L388.47 186.11 L389.41 185.36 L390.35 184.61 L391.30 183.86 L392.25 183.12 L393.19 182.38 L394.14 181.64 L395.09 180.90 L396.04 180.16 L397.00 179.42 L397.95 178.69 L398.91 177.96 L399.86 177.23 L400.82 176.50 L401.78 175.77 L402.74 175.05 L403.70 174.33 L404.67 173.61 L405.63 172.90 L406.60 172.19 L407.57 171.48 L408.54 170.77 L409.52 170.06 L410.49 169.36 L411.47 168.66 L412.44 167.97 L413.42 167.27 L414.40 166.58 L415.39 165.90 L416.37 165.22 L417.36 164.54 L418.35 163.86 L419.34 163.19 L420.33 162.52 L421.33 161.85 L422.33 161.19 L423.33 160.53 L424.33 159.88 L425.33 159.23 L426.34 158.58 L427.35 157.94 L428.36 157.30 L429.37 156.67 L430.38 156.04 L431.40 155.41 L432.42 154.79 L433.44 154.17 L434.47 153.56 L435.49 152.95 L436.52 152.35 L437.55 151.75 L438.59 151.16 L439.62 150.57 L440.66 149.99 L441.70 149.41 L442.75 148.83 L443.80 148.27 L444.84 147.70 L445.90 147.14 L446.95 146.59 L448.01 146.04 L449.07 145.50 L450.13 144.96 L451.20 144.43 L452.26 143.90 L453.33 143.38 L454.41 142.87 L455.48 142.36 L456.56 141.85 L457.64 141.35 L458.72 140.86 L459.81 140.37 L460.89 139.89 L461.98 139.41 L463.08 138.94 L464.17 138.48 L465.27 138.02 L466.37 137.56 L467.48 137.12 L468.58 136.68 L469.69 136.24 L470.80 135.81 L471.91 135.39 L473.03 134.97 L474.15 134.56 L475.27 134.16 L476.39 133.76 L477.52 133.37 L478.65 132.98 L479.78 132.60 L480.91 132.23 L482.05 131.86 L483.19 131.50 L484.33 131.15 L485.48 130.80 L486.62 130.46 L487.77 130.13 L488.92 129.80 L490.08 129.48 L491.23 129.17 L492.39 128.87 L493.56 128.57 L494.72 128.27 L495.89 127.99 L497.06 127.71 L498.23 127.44 L499.40 127.17 L500.58 126.92 L501.76 126.67 L502.94 126.42 L504.13 126.19 L505.32 125.96 L506.51 125.74 L507.70 125.52 L508.89 125.32 L510.09 125.12 L511.29 124.93 L512.49 124.74 L513.70 124.57 L514.91 124.40 L516.12 124.24 L517.33 124.08 L518.54 123.94 L519.76 123.80 L520.98 123.67 L522.21 123.55 L523.43 123.43 L524.66 123.33 L525.89 123.23 L527.12 123.14 L528.36 123.05 L529.60 122.98" fill="none" stroke="#8c6200" stroke-width="3.00" stroke-linejoin="round" stroke-linecap="butt"/>
<path d="M345.88 224.24 L346.85 223.56 L347.82 222.89 L348.79 222.20 L349.76 221.52 L350.73 220.83 L351.69 220.14 L352.66 219.44 L353.62 218.74 L354.58 218.04 L355.54 217.34 L356.50 216.64 L357.46 215.93 L358.42 215.22 L359.38 214.51 L360.33 213.79 L361.29 213.08 L362.24 212.36 L363.19 211.64 L364.15 210.91 L365.10 210.19 L366.05 209.47 L367.00 208.74 L367.95 208.01 L368.90 207.28 L369.85 206.55 L370.80 205.82 L371.75 205.09 L372.70 204.35 L373.65 203.62 L374.60 202.89 L375.54 202.15 L376.49 201.41 L377.44 200.68 L378.39 199.94 L379.34 199.20 L380.28 198.47 L381.23 197.73 L382.18 196.99 L383.13 196.26 L384.08 195.52 L385.03 194.78 L385.98 194.05 L386.93 193.31 L387.88 192.58 L388.83 191.84 L389.78 191.11 L390.74 190.38 L391.69 189.65 L392.65 188.92 L393.60 188.19 L394.56 187.46 L395.51 186.73 L396.47 186.01 L397.43 185.29 L398.39 184.56 L399.35 183.85 L400.31 183.13 L401.28 182.41 L402.24 181.70 L403.21 180.99 L404.18 180.28 L405.15 179.57 L406.12 178.86 L407.09 178.16 L408.06 177.46 L409.04 176.77 L410.01 176.07 L410.99 175.38 L411.97 174.69 L412.95 174.01 L413.94 173.33 L414.92 172.65 L415.91 171.97 L416.90 171.30 L417.89 170.63 L418.89 169.97 L419.88 169.31 L420.88 168.65 L421.88 168.00 L422.88 167.35 L423.89 166.70 L424.90 166.06 L425.91 165.43 L426.92 164.80 L427.94 164.17 L428.95 163.55 L429.97 162.93 L431.00 162.32 L432.02 161.71 L433.05 161.10 L434.08 160.51 L435.12 159.91 L436.15 159.33 L437.19 158.74 L438.24 158.17 L439.28 157.60 L440.33 157.03 L441.39 156.47 L442.44 155.92 L443.50 155.37 L444.56 154.82 L445.63 154.29 L446.70 153.76 L447.77 153.23 L448.84 152.71 L449.92 152.20 L451.00 151.69 L452.08 151.19 L453.16 150.69 L454.25 150.20 L455.34 149.71 L456.44 149.23 L457.53 148.75 L458.63 148.29 L459.73 147.82 L460.84 147.36 L461.95 146.91 L463.06 146.46 L464.17 146.02 L465.28 145.59 L466.40 145.16 L467.52 144.73 L468.64 144.31 L469.76 143.90 L470.89 143.49 L472.02 143.09 L473.15 142.69 L474.28 142.30 L475.42 141.92 L476.55 141.54 L477.69 141.16 L478.83 140.79 L479.98 140.43 L481.12 140.07 L482.27 139.72 L483.42 139.37 L484.57 139.03 L485.72 138.69 L486.88 138.36 L488.04 138.03 L489.20 137.71 L490.36 137.40 L491.52 137.09 L492.68 136.78 L493.85 136.48 L495.02 136.19 L496.18 135.90 L497.36 135.62 L498.53 135.34 L499.70 135.07 L500.88 134.80 L502.05 134.54 L503.23 134.29 L504.41 134.03 L505.59 133.79 L506.77 133.55 L507.96 133.31 L509.14 133.08 L510.33 132.86 L511.51 132.64 L512.70 132.43 L513.89 132.22 L515.08 132.02 L516.27 131.82 L517.47 131.63 L518.66 131.44 L519.85 131.26 L521.05 131.08 L522.25 130.91 L523.44 130.74 L524.64 130.58 L525.84 130.42 L527.04 130.27 L528.24 130.13 L529.44 129.99" fill="none" stroke="#8fb8e0" stroke-width="3.00" stroke-linejoin="round" stroke-linecap="butt"/>
<rect x="71.00" y="35.00" width="184.40" height="207.40" fill="none" stroke="#000" stroke-width="2"/>
<rect x="345.00" y="35.00" width="184.60" height="207.40" fill="none" stroke="#000" stroke-width="2"/>
<line x1="175.60" y1="174.20" x2="207.80" y2="174.20" stroke="#4a4a4a" stroke-width="3" stroke-linecap="round"/>
<text x="211.80" y="178.80" class="lg">fresh</text>
<line x1="175.60" y1="192.20" x2="207.80" y2="192.20" stroke="#c80000" stroke-width="3" stroke-linecap="round"/>
<text x="211.80" y="196.80" class="lg">1 h</text>
<line x1="175.60" y1="210.20" x2="207.80" y2="210.20" stroke="#8c6200" stroke-width="3" stroke-linecap="round"/>
<text x="211.80" y="214.80" class="lg">5 h</text>
<line x1="175.60" y1="228.20" x2="207.80" y2="228.20" stroke="#8fb8e0" stroke-width="3" stroke-linecap="round"/>
<text x="211.80" y="232.80" class="lg">16 h</text>
<line x1="352.10" y1="51.00" x2="384.30" y2="51.00" stroke="#4a4a4a" stroke-width="3" stroke-linecap="round"/>
<text x="388.30" y="55.60" class="lg">fresh</text>
<line x1="352.10" y1="69.00" x2="384.30" y2="69.00" stroke="#c80000" stroke-width="3" stroke-linecap="round"/>
<text x="388.30" y="73.60" class="lg">1 h</text>
<line x1="352.10" y1="87.00" x2="384.30" y2="87.00" stroke="#8c6200" stroke-width="3" stroke-linecap="round"/>
<text x="388.30" y="91.60" class="lg">5 h</text>
<line x1="352.10" y1="105.00" x2="384.30" y2="105.00" stroke="#8fb8e0" stroke-width="3" stroke-linecap="round"/>
<text x="388.30" y="109.60" class="lg">16 h</text>
<text x="128.3" y="22.7" class="tt">Pt/Al<tspan class="sub" dy="5">2</tspan><tspan dy="-5">O</tspan><tspan class="sub" dy="5">3</tspan></text>
<text x="388.6" y="22.7" class="tt">Pt-Pd/Al<tspan class="sub" dy="5">2</tspan><tspan dy="-5">O</tspan><tspan class="sub" dy="5">3</tspan></text>
<text x="163.4" y="295.5" text-anchor="middle" class="ax">Temperature [°C]</text>
<text x="437.6" y="295.5" text-anchor="middle" class="ax">Temperature [°C]</text>
<text x="12.8" y="295.5" class="ax">a)</text>
<text x="282.1" y="295.5" class="ax">b)</text>
<text transform="translate(26.8,130) rotate(-90)" text-anchor="middle" class="ax">NO conversion [%]</text>
<text transform="translate(296.6,130) rotate(-90)" text-anchor="middle" class="ax">NO conversion [%]</text>
</svg>
</body></html>
